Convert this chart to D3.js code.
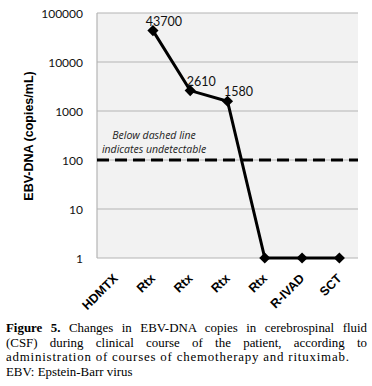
<!DOCTYPE html>
<html>
<head>
<meta charset="utf-8">
<script src="https://cdn.jsdelivr.net/npm/d3@7"></script>
<style>
  body { margin: 0; background: #fff; }
  #chart { position: relative; width: 372px; height: 386px; }
  .caption {
    position: absolute; left: 6px; top: 321px; width: 361px;
    font-family: "Liberation Serif", "Times New Roman", serif;
    font-size: 12.9px; line-height: 14.6px; color: #000;
  }
  .caption div { white-space: nowrap; }
  .caption .just { text-align: justify; text-align-last: justify; white-space: normal; }
  .caption .wide { letter-spacing: 0.8px; }
</style>
</head>
<body>
<div id="chart"></div>
<script>
// chart data
var steps = ["HDMTX", "Rtx", "Rtx ", "Rtx  ", "Rtx   ", "R-IVAD", "SCT"];
var stepLabels = ["HDMTX", "Rtx", "Rtx", "Rtx", "Rtx", "R-IVAD", "SCT"];
var copies = [null, 43700, 2610, 1580, 1, 1, 1];
var pointLabels = ["", "43700", "2610", "1580", "", "", ""];
var yTicks = [1, 10, 100, 1000, 10000, 100000];
var detectLimit = 100;

var svgWidth = 372;
var svgHeight = 318;

var margin = { top: 13, right: 14, bottom: 60, left: 97 };
var width = svgWidth - margin.left - margin.right;
var height = svgHeight - margin.top - margin.bottom;

var svg = d3.select("#chart")
  .append("svg")
  .attr("width", svgWidth)
  .attr("height", svgHeight)
  .style("position", "absolute")
  .style("left", 0)
  .style("top", 0);

var chartGroup = svg.append("g")
  .attr("transform", `translate(${margin.left}, ${margin.top})`);

var xScale = d3.scaleBand()
  .domain(steps)
  .range([0, width]);

var yScale = d3.scaleLog()
  .domain([1, 100000])
  .range([height, 0]);

// plot background
chartGroup.append("rect")
  .attr("width", width)
  .attr("height", height)
  .attr("fill", "#f2f2f2");

// gridlines
chartGroup.selectAll(".grid")
  .data(yTicks)
  .enter()
  .append("line")
  .attr("x1", 0)
  .attr("x2", width)
  .attr("y1", d => yScale(d))
  .attr("y2", d => yScale(d))
  .attr("stroke", "#b4b4b4")
  .attr("stroke-width", 1.2);

// left border
chartGroup.append("line")
  .attr("x1", 0).attr("x2", 0)
  .attr("y1", 0).attr("y2", height)
  .attr("stroke", "#b4b4b4")
  .attr("stroke-width", 1.2);

// y axis tick labels
var leftAxis = d3.axisLeft(yScale)
  .tickValues(yTicks)
  .tickFormat(d3.format("d"))
  .tickSize(0)
  .tickPadding(14);

var yAxis = chartGroup.append("g").call(leftAxis);
yAxis.select(".domain").remove();
yAxis.selectAll("text")
  .attr("font-family", "Lato, 'Open Sans', sans-serif")
  .attr("font-size", "12px")
  .attr("fill", "#111")
  .attr("dy", "0.4em");

// x axis labels, rotated
var bottomAxis = d3.axisBottom(xScale)
  .tickSize(0)
  .tickFormat((d, i) => stepLabels[i]);

var xAxis = chartGroup.append("g")
  .attr("transform", `translate(0, ${height})`)
  .call(bottomAxis);
xAxis.select(".domain").remove();
xAxis.selectAll("text")
  .attr("font-family", "'Liberation Sans', Arial, sans-serif")
  .attr("font-weight", "bold")
  .attr("font-size", "12.5px")
  .attr("fill", "#000")
  .attr("text-anchor", "end")
  .attr("dy", 0)
  .attr("transform", "translate(1, 19) rotate(-45)");

// y axis title
svg.append("text")
  .attr("transform", `translate(33, ${margin.top + 123}) rotate(-90)`)
  .attr("text-anchor", "middle")
  .attr("font-family", "'Liberation Sans', Arial, sans-serif")
  .attr("font-weight", "bold")
  .attr("font-size", "12.5px")
  .text("EBV-DNA (copies/mL)");

// dashed undetectable line
chartGroup.append("line")
  .attr("x1", 0)
  .attr("x2", width)
  .attr("y1", yScale(detectLimit))
  .attr("y2", yScale(detectLimit))
  .attr("stroke", "#000")
  .attr("stroke-width", 3)
  .attr("stroke-dasharray", "12,6");

var note = chartGroup.append("text")
  .attr("x", 57)
  .attr("font-family", "'Open Sans', sans-serif")
  .attr("font-style", "italic")
  .attr("font-size", "10.5px")
  .attr("fill", "#222")
  .attr("text-anchor", "middle");
note.append("tspan").attr("x", 57).attr("y", yScale(detectLimit) - 21).text("Below dashed line");
note.append("tspan").attr("x", 57).attr("y", yScale(detectLimit) - 7).text("indicates undetectable");

// line and markers
var points = steps.map((s, i) => ({ step: s, value: copies[i], label: pointLabels[i] }))
  .filter(d => d.value !== null);

var line = d3.line()
  .x(d => xScale(d.step) + xScale.bandwidth() / 2)
  .y(d => yScale(d.value));

chartGroup.append("path")
  .datum(points)
  .attr("d", line)
  .attr("fill", "none")
  .attr("stroke", "#000")
  .attr("stroke-width", 3);

// diamonds = squares turned 45 degrees
chartGroup.selectAll(".marker")
  .data(points)
  .enter()
  .append("path")
  .attr("d", d3.symbol().type(d3.symbolSquare).size(62))
  .attr("transform", d => `translate(${xScale(d.step) + xScale.bandwidth() / 2}, ${yScale(d.value)}) rotate(45)`)
  .attr("fill", "#000");

chartGroup.selectAll(".plabel")
  .data(points.filter(d => d.label))
  .enter()
  .append("text")
  .attr("x", d => xScale(d.step) + xScale.bandwidth() / 2 + 11)
  .attr("y", d => yScale(d.value) - 5)
  .attr("text-anchor", "middle")
  .attr("font-family", "Lato, 'Open Sans', sans-serif")
  .attr("font-size", "12.5px")
  .attr("fill", "#111")
  .text(d => d.label);
</script>
<div class="caption">
  <div class="just"><b>Figure 5.</b> Changes in EBV-DNA copies in cerebrospinal fluid</div>
  <div class="just">(CSF) during clinical course of the patient, according to</div>
  <div class="wide">administration of courses of chemotherapy and rituximab.</div>
  <div>EBV: Epstein-Barr virus</div>
</div>
</body>
</html>
